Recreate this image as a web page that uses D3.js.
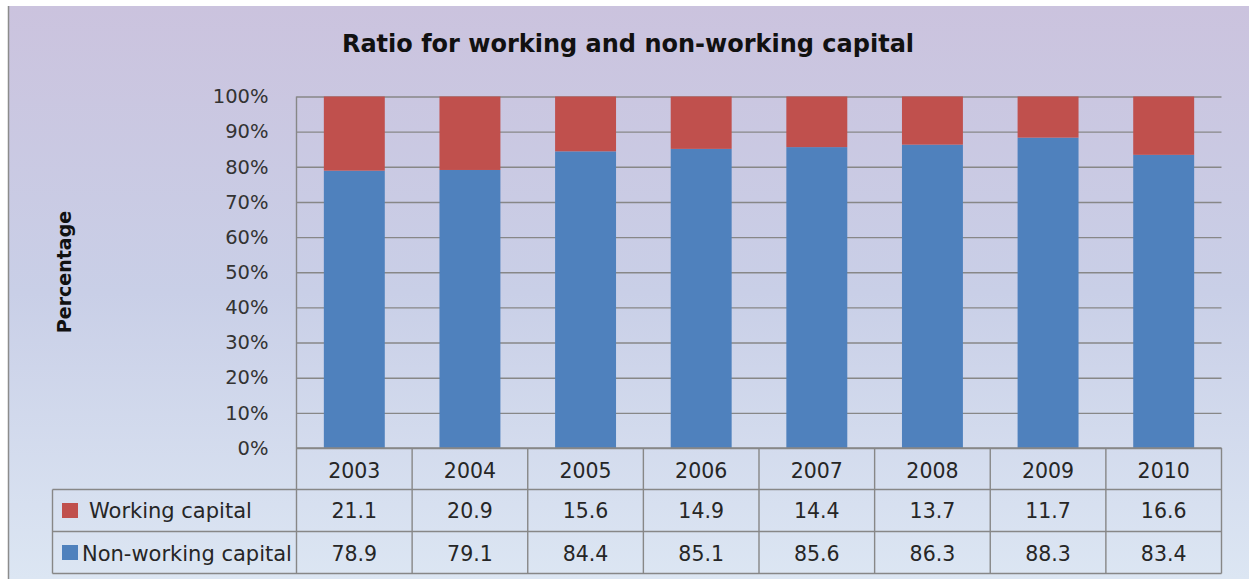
<!DOCTYPE html>
<html>
<head>
<meta charset="utf-8">
<script src="https://cdn.jsdelivr.net/npm/d3@7"></script>
<style>
  html, body { margin: 0; padding: 0; background: #ffffff; }
  svg { display: block; }
</style>
</head>
<body>
<svg id="chart" width="1249" height="579"></svg>
<script>
// Share of working vs non-working capital, by year (percent)
const years = ["2003", "2004", "2005", "2006", "2007", "2008", "2009", "2010"];
const workingCapital = [21.1, 20.9, 15.6, 14.9, 14.4, 13.7, 11.7, 16.6];
const nonWorkingCapital = [78.9, 79.1, 84.4, 85.1, 85.6, 86.3, 88.3, 83.4];
const seriesNames = ["Working capital", "Non-working capital"];
const yTicks = [0, 10, 20, 30, 40, 50, 60, 70, 80, 90, 100];
const titleText = "Ratio for working and non-working capital";
const yAxisTitle = "Percentage";

const W = 1249, H = 579;
const colors = { working: "#C0504D", nonWorking: "#4F81BD" };
const gridColor = "#878787";
const textColor = "#262626";
const tableFont = "'DejaVu Sans', sans-serif";

const svg = d3.select("#chart");

// background panel with soft vertical gradient
const defs = svg.append("defs");
const grad = defs.append("linearGradient").attr("id", "bg").attr("x1", 0).attr("y1", 0).attr("x2", 0).attr("y2", 1);
grad.append("stop").attr("offset", "0%").attr("stop-color", "#CBC3DE");
grad.append("stop").attr("offset", "50%").attr("stop-color", "#C9CFE7");
grad.append("stop").attr("offset", "100%").attr("stop-color", "#DCE6F3");

svg.append("rect").attr("x", 8).attr("y", 6).attr("width", W - 8).attr("height", H - 6)
  .attr("fill", "url(#bg)");
svg.append("line").attr("x1", 8.5).attr("x2", 8.5).attr("y1", 6).attr("y2", H)
  .attr("stroke", "#8c8c8c").attr("stroke-width", 1.5);

// plot geometry
const plot = { left: 296.5, right: 1221.5, top: 96.5, bottom: 448 };
const rows = { header: 448, r1: 489.5, r2: 531.5, end: 573.5 };
const legendLeft = 52.5;

const y = d3.scaleLinear().domain([0, 100]).range([plot.bottom, plot.top]);
const xCol = d3.scaleBand().domain(years).range([plot.left, plot.right]).padding(0);
const xBar = d3.scaleBand().domain(years).range([plot.left, plot.right])
  .paddingInner(0.473).paddingOuter(0.2365);

// title
svg.append("text")
  .attr("x", 628).attr("y", 52)
  .attr("text-anchor", "middle")
  .attr("font-family", tableFont)
  .attr("font-weight", "bold")
  .attr("font-size", 24)
  .attr("fill", "#111")
  .text(titleText);

// y axis title
svg.append("text")
  .attr("transform", "translate(71,272) rotate(-90)")
  .attr("text-anchor", "middle")
  .attr("font-family", tableFont)
  .attr("font-weight", "bold")
  .attr("font-size", 19)
  .attr("fill", "#111")
  .text(yAxisTitle);

// y axis with gridlines
const yAxis = d3.axisLeft(y)
  .tickValues(yTicks)
  .tickFormat(d => d + "%")
  .tickSize(-(plot.right - plot.left))
  .tickSizeOuter(0)
  .tickPadding(28);

const gy = svg.append("g").attr("transform", `translate(${plot.left},0)`).call(yAxis);
gy.select(".domain").remove();
gy.selectAll(".tick line").attr("stroke", gridColor).attr("stroke-width", 1.4);
gy.selectAll(".tick text")
  .attr("font-family", tableFont)
  .attr("font-size", 19.5)
  .attr("fill", "#333");

// stacked bars
const stackData = years.map((yr, i) => ({ year: yr, nonWorking: nonWorkingCapital[i], working: workingCapital[i] }));
const stack = d3.stack().keys(["nonWorking", "working"]);
const layers = stack(stackData);

svg.append("g").selectAll("g")
  .data(layers)
  .join("g")
  .attr("fill", d => colors[d.key])
  .selectAll("rect")
  .data(d => d)
  .join("rect")
  .attr("x", d => xBar(d.data.year))
  .attr("width", xBar.bandwidth())
  .attr("y", d => y(d[1]))
  .attr("height", d => y(d[0]) - y(d[1]));

// data table
const tbl = svg.append("g").attr("stroke", gridColor).attr("stroke-width", 1.4).attr("fill", "none");
// vertical axis line running down through the table
tbl.append("line").attr("x1", plot.left).attr("x2", plot.left).attr("y1", plot.top).attr("y2", rows.end);
// header top
tbl.append("line").attr("x1", plot.left).attr("x2", plot.right).attr("y1", rows.header).attr("y2", rows.header);
// row separators including legend column
[rows.r1, rows.r2, rows.end].forEach(ry => {
  tbl.append("line").attr("x1", legendLeft).attr("x2", plot.right).attr("y1", ry).attr("y2", ry);
});
// legend column left edge
tbl.append("line").attr("x1", legendLeft).attr("x2", legendLeft).attr("y1", rows.r1).attr("y2", rows.end);
// column separators
years.forEach(yr => {
  const xr = xCol(yr) + xCol.bandwidth();
  tbl.append("line").attr("x1", xr).attr("x2", xr).attr("y1", rows.header).attr("y2", rows.end);
});

const cellText = svg.append("g")
  .attr("font-family", tableFont)
  .attr("font-size", 20.5)
  .attr("fill", textColor)
  .attr("text-anchor", "middle");

cellText.selectAll("text.year")
  .data(years).join("text").attr("class", "year")
  .attr("x", d => xCol(d) + xCol.bandwidth() / 2)
  .attr("y", 478)
  .text(d => d);

cellText.selectAll("text.wc")
  .data(workingCapital).join("text").attr("class", "wc")
  .attr("x", (d, i) => xCol(years[i]) + xCol.bandwidth() / 2)
  .attr("y", 518)
  .text(d => d.toFixed(1));

cellText.selectAll("text.nwc")
  .data(nonWorkingCapital).join("text").attr("class", "nwc")
  .attr("x", (d, i) => xCol(years[i]) + xCol.bandwidth() / 2)
  .attr("y", 561)
  .text(d => d.toFixed(1));

// legend keys inside the table
const legendRows = [
  { name: seriesNames[0], color: colors.working, keyY: 503, textX: 89, baseY: 518 },
  { name: seriesNames[1], color: colors.nonWorking, keyY: 545, textX: 82, baseY: 561 }
];
const lg = svg.append("g");
lg.selectAll("rect").data(legendRows).join("rect")
  .attr("x", 62).attr("y", d => d.keyY)
  .attr("width", 16).attr("height", 15)
  .attr("fill", d => d.color);
lg.selectAll("text").data(legendRows).join("text")
  .attr("x", d => d.textX).attr("y", d => d.baseY)
  .attr("font-family", tableFont)
  .attr("font-size", 21)
  .attr("fill", textColor)
  .text(d => d.name);
</script>
</body>
</html>
